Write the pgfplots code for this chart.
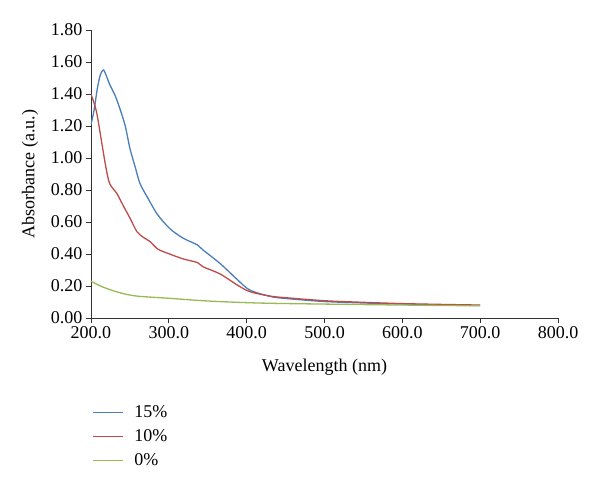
\documentclass[border=0pt]{standalone}
\usepackage{fontspec}
\setmainfont{Liberation Serif}
\usepackage{pgfplots}
\pgfplotsset{compat=1.18}
\definecolor{c15}{HTML}{4A7EBB}
\definecolor{c10}{HTML}{BE4B48}
\definecolor{c0}{HTML}{98B954}

\begin{document}
\begin{tikzpicture}[font=\fontsize{18bp}{21bp}\selectfont]
\path[use as bounding box] (-91bp,-172bp) rectangle (509bp,318bp);
\begin{axis}[
    scale only axis,
    width=467bp, height=288bp,
    xmin=200, xmax=800, ymin=0, ymax=1.8,
    xtick={200,300,400,500,600,700,800},
    ytick={0,0.2,0.4,0.6,0.8,1.0,1.2,1.4,1.6,1.8},
    axis x line*=bottom, axis y line*=left,
    axis line style={-, black!80, line width=0.9bp},
    tick style={black!80, line width=0.9bp},
    tick align=outside,
    major tick length=5bp,
    xticklabel style={/pgf/number format/.cd, fixed, fixed zerofill, precision=1, assume math mode=true},
    yticklabel style={/pgf/number format/.cd, fixed, fixed zerofill, precision=2, assume math mode=true},
    xlabel={Wavelength (nm)},
    ylabel={Absorbance (a.u.)},
    xlabel style={at={([yshift=-49bp]axis description cs:0.5,0)}, anchor=center},
    ylabel style={at={([xshift=-61bp]axis description cs:0,0.5)}, anchor=center},
    legend style={at={([xshift=1bp,yshift=-85bp]axis description cs:0,0)}, anchor=north west,
        draw=none, fill=none, inner sep=0pt, row sep=5bp,
        nodes={inner sep=1bp, text height=13bp, text depth=4bp},
        /tikz/every odd column/.style={column sep=10bp}},
    legend cell align=left,
    legend image code/.code={\draw[#1] (0bp,0bp) -- (30bp,0bp);},
    every axis plot/.append style={line width=1.3bp, smooth},
]
% 15%
\addplot[c15] coordinates {
 (200,1.21) (204,1.30) (208,1.43) (212,1.52) (216,1.55) (220,1.51) (224,1.46)
 (231,1.39) (237,1.31) (244,1.20) (250,1.06) (257,0.94) (263,0.84) (273,0.75)
 (285,0.65) (301,0.56) (318,0.50) (337,0.456) (344,0.425) (366,0.34) (388,0.24)
 (404,0.175) (430,0.135) (450,0.122) (500,0.103) (550,0.094) (600,0.087)
 (650,0.082) (700,0.078)
};
% 10%
\addplot[c10] coordinates {
 (200,1.40) (207,1.29) (214,1.09) (219,0.946) (224,0.84) (233,0.78) (241,0.706)
 (250,0.625) (259,0.54) (267,0.505) (276,0.477) (286,0.43) (301,0.40) (318,0.37)
 (337,0.346) (344,0.32) (366,0.275) (388,0.206) (404,0.165) (430,0.137)
 (450,0.127) (500,0.108) (550,0.098) (600,0.090) (650,0.085) (700,0.081)
};
% 0%
\addplot[c0] coordinates {
 (200,0.23) (215,0.194) (237,0.158) (259,0.137) (301,0.123) (344,0.108)
 (388,0.098) (430,0.092) (500,0.087) (600,0.081) (700,0.076)
};
\legend{15\%, 10\%, 0\%}
\end{axis}
\end{tikzpicture}
\end{document}
